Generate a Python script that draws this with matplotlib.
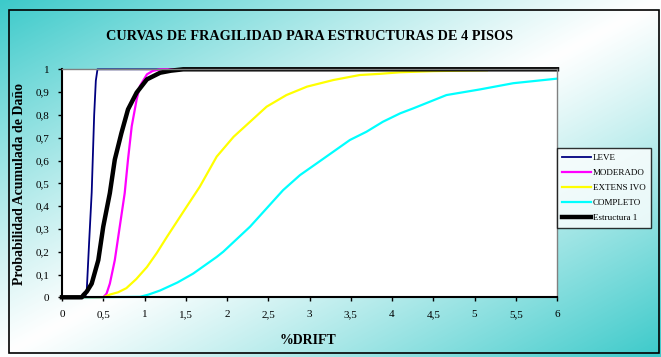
import numpy as np
import matplotlib
matplotlib.use("Agg")
import matplotlib.pyplot as plt
from matplotlib.patches import Rectangle
from matplotlib.colors import to_rgb

plt.rcParams['font.family'] = ['Liberation Serif', 'DejaVu Serif']

# curves (x = %drift, y = cumulative probability)
leve_x = [0.0, 0.28, 0.30, 0.33, 0.36, 0.39, 0.41, 0.43, 6.0]
leve_y = [0.0, 0.0, 0.03, 0.25, 0.46, 0.80, 0.95, 1.0, 1.0]

moderado_x = [0.0, 0.50, 0.54, 0.58, 0.64, 0.70, 0.76, 0.80, 0.845, 0.905, 0.945, 1.03, 1.10, 1.19, 6.0]
moderado_y = [0.0, 0.0, 0.016, 0.06, 0.163, 0.31, 0.457, 0.604, 0.75, 0.868, 0.927, 0.978, 0.993, 1.0, 1.0]

extensivo_x = [0.0, 0.50, 0.58, 0.68, 0.78, 0.90, 1.03, 1.15, 1.27, 1.51, 1.67, 1.875, 2.08, 2.28, 2.48,
               2.72, 2.97, 3.29, 3.61, 3.85, 4.1, 4.5, 5.15]
extensivo_y = [0.0, 0.0, 0.012, 0.022, 0.04, 0.08, 0.133, 0.195, 0.264, 0.397, 0.485, 0.617, 0.704, 0.77, 0.836,
               0.887, 0.924, 0.953, 0.975, 0.98, 0.987, 0.992, 0.996]

completo_x = [0.0, 0.30, 0.945, 1.05, 1.19, 1.40, 1.59, 1.875, 1.955, 2.28, 2.48, 2.68, 2.885, 3.09, 3.29,
              3.49, 3.69, 3.89, 4.1, 4.26, 4.66, 5.07, 5.47, 6.0]
completo_y = [0.0, 0.0, 0.002, 0.012, 0.03, 0.065, 0.104, 0.177, 0.2, 0.31, 0.39, 0.47, 0.536, 0.588, 0.639,
              0.69, 0.726, 0.77, 0.807, 0.829, 0.887, 0.912, 0.939, 0.959]

estructura_x = [0.0, 0.24, 0.26, 0.30, 0.36, 0.44, 0.50, 0.58, 0.64, 0.72, 0.80, 0.905, 1.03, 1.19, 1.32, 1.47, 6.0]
estructura_y = [0.0, 0.0, 0.01, 0.025, 0.06, 0.163, 0.31, 0.457, 0.604, 0.72, 0.824, 0.898, 0.956, 0.985, 0.994, 1.0, 1.0]

series = [
    ("LEVE", leve_x, leve_y, "#000080", 1.3),
    ("MODERADO", moderado_x, moderado_y, "#FF00FF", 1.6),
    ("EXTENS IVO", extensivo_x, extensivo_y, "#FFFF00", 1.6),
    ("COMPLETO", completo_x, completo_y, "#00FFFF", 1.6),
    ("Estructura 1", estructura_x, estructura_y, "#000000", 3.2),
]

xticks = np.arange(0, 6.01, 0.5)
yticks = np.arange(0, 1.01, 0.1)


def comma(v):
    s = ("%.1f" % v).rstrip("0").rstrip(".")
    return s.replace(".", ",")


W, H = 661, 357
fig = plt.figure(figsize=(W / 100, H / 100), dpi=100)

# gradient background: teal in top-left and bottom-right corners, white on the other diagonal
bg = fig.add_axes([0, 0, 1, 1], zorder=-10)
u = np.linspace(0, 1, W)[None, :]
v = np.linspace(0, 1, H)[:, None]
s = np.abs(u + v - 1.0)
teal = np.array(to_rgb("#3CCACA"))
white = np.ones(3)
img = white + (teal - white) * s[..., None] ** 1.1
bg.imshow(img, aspect="auto", extent=[0, W, H, 0])
bg.set_xlim(0, W)
bg.set_ylim(H, 0)
bg.axis("off")
bg.add_patch(Rectangle((9, 10), 650, 343, fill=False, edgecolor="black", linewidth=1.2))

ax = fig.add_axes([62 / W, 1 - 297.3 / H, (557 - 62) / W, 228 / H])
ax.set_facecolor("white")
for name, xs, ys, col, lw in series:
    ax.plot(xs, ys, color=col, linewidth=lw, label=name, clip_on=False)

ax.set_xlim(0, 6)
ax.set_ylim(0, 1)
ax.set_xticks(xticks)
ax.set_xticklabels([comma(t) for t in xticks], fontsize=8)
ax.set_yticks(yticks)
ax.set_yticklabels([comma(t) for t in yticks], fontsize=8)
ax.tick_params(direction="out", length=3, width=1, pad=6)
for side in ["left", "bottom"]:
    ax.spines[side].set_linewidth(1.5)
for side in ["top", "right"]:
    ax.spines[side].set_color("#808080")
    ax.spines[side].set_linewidth(1)

fig.text(310 / W, 1 - 37 / H, "CURVAS DE FRAGILIDAD PARA ESTRUCTURAS DE 4 PISOS",
         ha="center", va="center", fontsize=10.3, fontweight="bold")
fig.text(20 / W, 1 - 184 / H, "Probabilidad Acumulada de Daño", rotation=90,
         ha="center", va="center", fontsize=10, fontweight="bold")
fig.text(308 / W, 1 - 341 / H, "%DRIFT", ha="center", va="center", fontsize=10, fontweight="bold")

leg = fig.legend(loc="upper left", bbox_to_anchor=(557 / W, 1 - 148 / H), fontsize=6.5,
                 frameon=True, fancybox=False, edgecolor="black", handlelength=3.2,
                 handletextpad=0.2, labelspacing=0.75, borderpad=0.6, borderaxespad=0)
leg.get_frame().set_linewidth(1)
leg.get_frame().set_facecolor("white")

fig.savefig("out.png", dpi=100)
